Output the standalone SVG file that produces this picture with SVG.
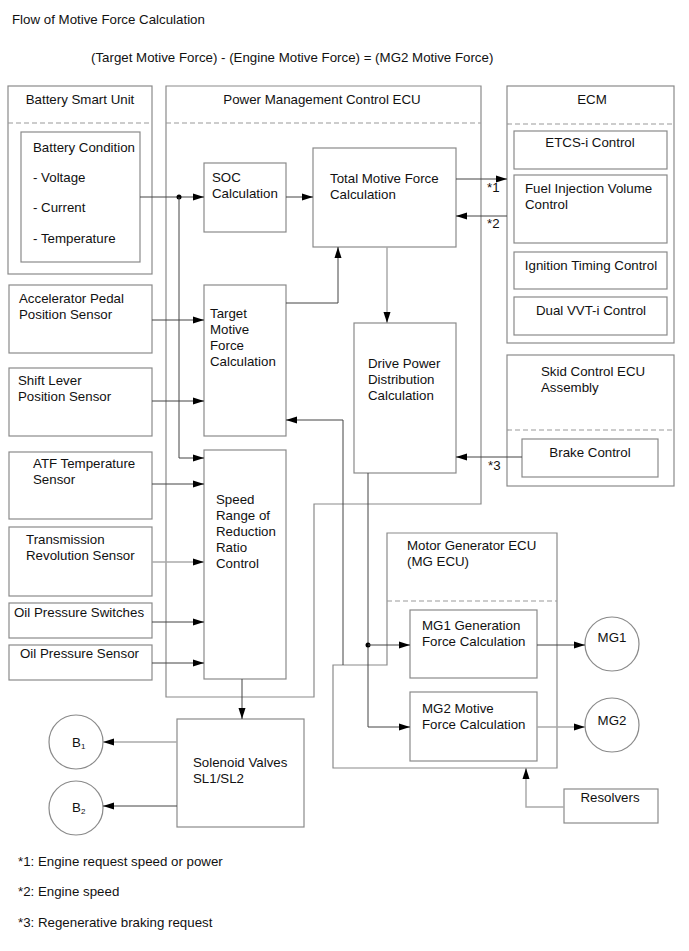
<svg xmlns="http://www.w3.org/2000/svg" width="689" height="951" viewBox="0 0 689 951">
<style>
text{font-family:"Liberation Sans",Arial,sans-serif;font-size:13.3px;fill:#111}
.box{fill:none;stroke:#8a8a8a;stroke-width:1.2}
.dash{fill:none;stroke:#9a9a9a;stroke-width:1.2;stroke-dasharray:5,3}
.c{fill:none;stroke:#444;stroke-width:1}
.cl{fill:none;stroke:#aaa;stroke-width:1.5}
.mid{text-anchor:middle}
</style>
<defs>
<marker id="ah" markerUnits="userSpaceOnUse" markerWidth="12" markerHeight="8" refX="11" refY="4" orient="auto">
<path d="M0,0.5 L11,4 L0,7.5 z" fill="#000"/>
</marker>
</defs>
<rect width="689" height="951" fill="#fff"/>

<g id="title">
<text x="12" y="24">Flow of Motive Force Calculation</text>
<text x="91" y="62">(Target Motive Force) - (Engine Motive Force) = (MG2 Motive Force)</text>
</g>

<g id="battery-smart-unit">
<rect class="box" x="8" y="86" width="144" height="188"/>
<line class="dash" x1="8" y1="123" x2="152" y2="123"/>
<text x="80" y="104" class="mid">Battery Smart Unit</text>
</g>
<g id="battery-condition">
<rect class="box" x="21" y="132" width="119" height="130"/>
<text x="33" y="152">Battery Condition</text>
<text x="33" y="182">- Voltage</text>
<text x="33" y="212">- Current</text>
<text x="33" y="243">- Temperature</text>
</g>

<g id="pm-ecu">
<path class="box" d="M166,86 H481 V504 H314 V697 H166 Z"/>
<line class="dash" x1="166" y1="123" x2="481" y2="123"/>
<text x="322" y="104" class="mid">Power Management Control ECU</text>
</g>
<g id="soc">
<rect class="box" x="204" y="163" width="82" height="69"/>
<text x="212" y="182">SOC</text>
<text x="212" y="198">Calculation</text>
</g>
<g id="total-motive">
<rect class="box" x="313" y="148" width="143" height="99"/>
<text x="330" y="183">Total Motive Force</text>
<text x="330" y="199">Calculation</text>
</g>
<g id="target-motive">
<rect class="box" x="204" y="285" width="82" height="151"/>
<text x="210" y="318">Target</text>
<text x="210" y="334">Motive</text>
<text x="210" y="350">Force</text>
<text x="210" y="366">Calculation</text>
</g>
<g id="drive-power">
<rect class="box" x="354" y="323" width="102" height="150"/>
<text x="368" y="368">Drive Power</text>
<text x="368" y="384">Distribution</text>
<text x="368" y="400">Calculation</text>
</g>
<g id="speed-range">
<rect class="box" x="204" y="450" width="82" height="229"/>
<text x="216" y="504">Speed</text>
<text x="216" y="520">Range of</text>
<text x="216" y="536">Reduction</text>
<text x="216" y="552">Ratio</text>
<text x="216" y="568">Control</text>
</g>

<g id="ecm">
<rect class="box" x="507" y="86" width="167" height="257"/>
<line class="dash" x1="507" y1="124" x2="674" y2="124"/>
<text x="592" y="104" class="mid">ECM</text>
</g>
<g id="etcs">
<rect class="box" x="514" y="131" width="153" height="38"/>
<text x="590" y="147" class="mid">ETCS-i Control</text>
</g>
<g id="fuel-injection">
<rect class="box" x="514" y="175" width="153" height="68"/>
<text x="525" y="193">Fuel Injection Volume</text>
<text x="525" y="209">Control</text>
</g>
<g id="ignition">
<rect class="box" x="514" y="252" width="153" height="37"/>
<text x="591" y="270" class="mid">Ignition Timing Control</text>
</g>
<g id="vvt">
<rect class="box" x="514" y="297" width="153" height="38"/>
<text x="591" y="315" class="mid">Dual VVT-i Control</text>
</g>

<g id="skid-control">
<rect class="box" x="507" y="355" width="167" height="131"/>
<line class="dash" x1="507" y1="430" x2="674" y2="430"/>
<text x="541" y="376">Skid Control ECU</text>
<text x="541" y="392">Assembly</text>
</g>
<g id="brake-control">
<rect class="box" x="522" y="439" width="136" height="38"/>
<text x="590" y="457" class="mid">Brake Control</text>
</g>

<g id="accelerator">
<rect class="box" x="9" y="285" width="143" height="68"/>
<text x="19" y="303">Accelerator Pedal</text>
<text x="19" y="319">Position Sensor</text>
</g>
<g id="shift-lever">
<rect class="box" x="9" y="368" width="143" height="68"/>
<text x="18" y="385">Shift Lever</text>
<text x="18" y="401">Position Sensor</text>
</g>
<g id="atf">
<rect class="box" x="9" y="452" width="143" height="67"/>
<text x="33" y="468">ATF Temperature</text>
<text x="33" y="484">Sensor</text>
</g>
<g id="trans-rev">
<rect class="box" x="9" y="527" width="143" height="69"/>
<text x="26" y="544">Transmission</text>
<text x="26" y="560">Revolution Sensor</text>
</g>
<g id="oil-switches">
<rect class="box" x="9" y="603" width="143" height="35"/>
<text x="14" y="617">Oil Pressure Switches</text>
</g>
<g id="oil-sensor">
<rect class="box" x="9" y="645" width="143" height="35"/>
<text x="20" y="658">Oil Pressure Sensor</text>
</g>

<g id="mg-ecu">
<path class="box" d="M387,533 H557 V768 H333 V665 H387 Z"/>
<line class="dash" x1="387" y1="601" x2="557" y2="601"/>
<text x="407" y="550">Motor Generator ECU</text>
<text x="407" y="566">(MG ECU)</text>
</g>
<g id="mg1-gen">
<rect class="box" x="410" y="610" width="127" height="68"/>
<text x="422" y="630">MG1 Generation</text>
<text x="422" y="646">Force Calculation</text>
</g>
<g id="mg2-motive">
<rect class="box" x="410" y="692" width="127" height="69"/>
<text x="422" y="713">MG2 Motive</text>
<text x="422" y="729">Force Calculation</text>
</g>
<g id="mg1">
<circle class="box" cx="612" cy="644" r="27"/>
<text x="612" y="642" class="mid">MG1</text>
</g>
<g id="mg2">
<circle class="box" cx="612" cy="725" r="27"/>
<text x="612" y="725" class="mid">MG2</text>
</g>
<g id="resolvers">
<rect class="box" x="564" y="789" width="94" height="34"/>
<text x="610" y="802" class="mid">Resolvers</text>
</g>

<g id="solenoid">
<rect class="box" x="177" y="719" width="127" height="108"/>
<text x="193" y="767">Solenoid Valves</text>
<text x="193" y="783">SL1/SL2</text>
</g>
<g id="b1">
<circle class="box" cx="76" cy="742" r="27"/>
<text x="72" y="747">B<tspan font-size="8" dy="2">1</tspan></text>
</g>
<g id="b2">
<circle class="box" cx="76" cy="808" r="27"/>
<text x="72" y="812">B<tspan font-size="8" dy="2">2</tspan></text>
</g>

<g id="connectors">
<path class="c" d="M140,197 H204" marker-end="url(#ah)"/>
<circle cx="179" cy="197" r="2.5" fill="#000"/>
<path class="c" d="M179,197 V458 H204" marker-end="url(#ah)"/>
<path class="c" d="M286,197 H313" marker-end="url(#ah)"/>
<path class="c" d="M456,179 H507" marker-end="url(#ah)"/>
<path class="c" d="M507,216 H456" marker-end="url(#ah)"/>
<path class="c" d="M286,303 H338 V247" marker-end="url(#ah)"/>
<path class="cl" d="M387,247 V323" marker-end="url(#ah)"/>
<path class="c" d="M152,320 H204" marker-end="url(#ah)"/>
<path class="c" d="M152,401 H204" marker-end="url(#ah)"/>
<path class="c" d="M343,665 V420 H286" marker-end="url(#ah)"/>
<path class="c" d="M522,457 H456" marker-end="url(#ah)"/>
<path class="c" d="M368,473 V727 H410" marker-end="url(#ah)"/>
<circle cx="368" cy="645" r="2.5" fill="#000"/>
<path class="c" d="M368,645 H410" marker-end="url(#ah)"/>
<path class="c" d="M152,484 H204" marker-end="url(#ah)"/>
<path class="cl" d="M152,562 H204" marker-end="url(#ah)"/>
<path class="c" d="M152,622 H204" marker-end="url(#ah)"/>
<path class="c" d="M152,663 H204" marker-end="url(#ah)"/>
<path class="c" d="M242,679 V719" marker-end="url(#ah)"/>
<path class="cl" d="M177,742 H103" marker-end="url(#ah)"/>
<path class="c" d="M177,806 H103" marker-end="url(#ah)"/>
<path class="c" d="M537,645 H585" marker-end="url(#ah)"/>
<path class="cl" d="M537,727 H585" marker-end="url(#ah)"/>
<path class="cl" d="M564,807 H526 V768" marker-end="url(#ah)"/>
<text x="487" y="192">*1</text>
<text x="487" y="228">*2</text>
<text x="488" y="470">*3</text>
</g>

<g id="footnotes">
<text x="18" y="866">*1: Engine request speed or power</text>
<text x="18" y="896">*2: Engine speed</text>
<text x="18" y="927">*3: Regenerative braking request</text>
</g>
</svg>
